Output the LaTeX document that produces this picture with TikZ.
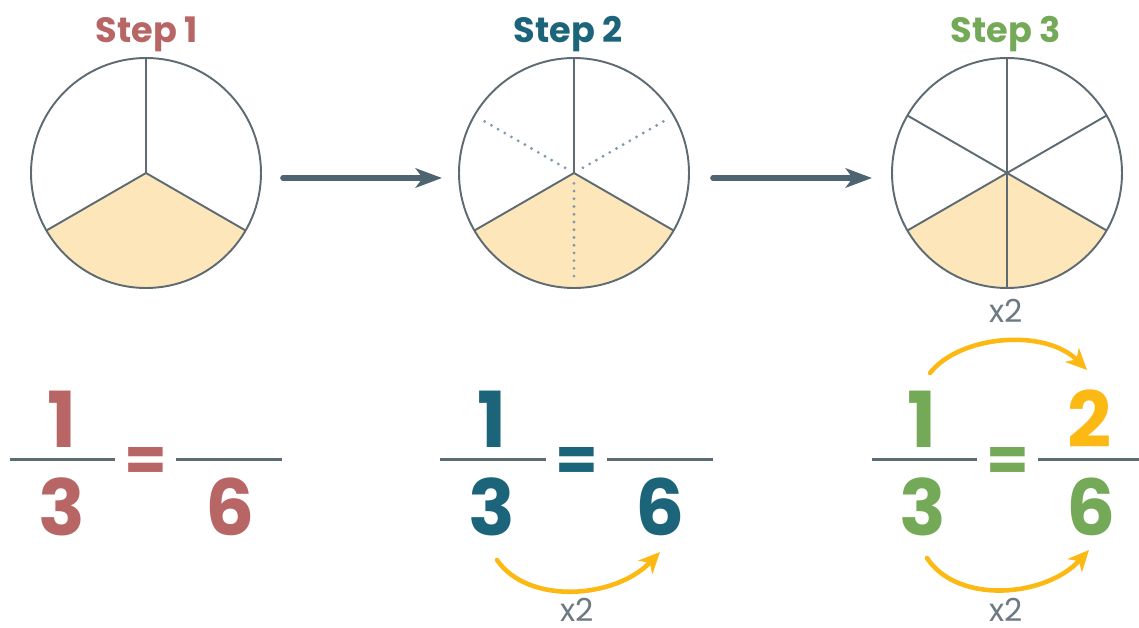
\documentclass[tikz,border=0pt]{standalone}
\usepackage{fontspec}
\setmainfont{Poppins}
\usepackage{xcolor}
\usetikzlibrary{arrows.meta,positioning,calc}

\definecolor{rustred}{HTML}{B86565}
\definecolor{tealblue}{HTML}{1C6479}
\definecolor{leafgreen}{HTML}{74A958}
\definecolor{gold}{HTML}{FDB913}
\definecolor{linegray}{HTML}{5E6B73}
\definecolor{arrowgray}{HTML}{4E6470}
\definecolor{dotblue}{HTML}{7F9BAA}
\definecolor{labelgray}{HTML}{6D7A82}
\definecolor{piefill}{HTML}{FDE7BA}

\begin{document}
\begin{tikzpicture}[
    x=0.02cm, y=0.02cm,
    title/.style={font=\fontsize{20}{24}\selectfont\bfseries, anchor=base},
    num/.style={font=\fontsize{44}{50}\selectfont\bfseries, anchor=base},
    eq/.style={font=\fontsize{35}{40}\selectfont\bfseries},
    times/.style={font=\fontsize{18}{22}\selectfont, text=labelgray, anchor=base, inner sep=0pt},
    disc/.style={circle, minimum size=4.6cm, inner sep=0pt, outer sep=0pt},
    bar/.style={draw=linegray, line width=1.7pt},
    rim/.style={draw=linegray, line width=1.1pt},
    spoke/.style={draw=linegray, line width=1.1pt},
    dots/.style={draw=dotblue, line width=1.8pt, line cap=round, dash pattern=on 0pt off 4.4pt},
    pie/.style={fill=piefill},
    arr/.style={-{Stealth[length=15pt, width=11pt, inset=4pt]}, line width=3.2pt, line cap=round, draw=arrowgray},
    curv/.style={-{Stealth[length=12pt, width=11pt, inset=3.5pt]}, line width=2.6pt, line cap=round, draw=gold}
]
    \useasboundingbox (0,0) rectangle (1139,627);

    \node [title, text=rustred] (t1) at (147,585) {Step 1};
    \node [title, text=tealblue] (t2) at (568,585) {Step 2};
    \node [title, text=leafgreen] (t3) at (1006,585) {Step 3};

    \node [disc] (c1) at (146,454) {};
    \node [disc] (c2) at (574,454) {};
    \node [disc] (c3) at (1007,454) {};

    \fill [pie] (c1.center) -- (c1.210) arc[start angle=210, end angle=330, radius=115] -- cycle;
    \fill [pie] (c2.center) -- (c2.210) arc[start angle=210, end angle=330, radius=115] -- cycle;
    \fill [pie] (c3.center) -- (c3.210) arc[start angle=210, end angle=330, radius=115] -- cycle;
    \draw [rim] (c1.center) circle[radius=115];
    \draw [rim] (c2.center) circle[radius=115];
    \draw [rim] (c3.center) circle[radius=115];

    \foreach \a in {90,210,330} \draw [spoke] (c1.center) -- (c1.\a);
    \foreach \a in {90,210,330} \draw [spoke] (c2.center) -- (c2.\a);
    \foreach \a in {30,150,270} \draw [dots] ($(c2.center)!0.09!(c2.\a)$) -- ($(c2.center)!0.92!(c2.\a)$);
    \foreach \a in {30,90,150,210,270,330} \draw [spoke] (c3.center) -- (c3.\a);

    \draw [arr] ([shift={(22,-5)}]c1.east) -- ([shift={(-17,-5)}]c2.west);
    \draw [arr] ([shift={(24,-5)}]c2.east) -- ([shift={(-20,-5)}]c3.west);

    \draw [bar] (10,168) -- (115,168);
    \draw [bar] (176,168) -- (282,168);
    \node [num, text=rustred] (a1) at (62,180) {1};
    \node [num, text=rustred] (a3) at (62,92) {3};
    \node [eq, text=rustred] (ae) at (146,163) {=};
    \node [num, text=rustred] (a6) at (230,92) {6};

    \draw [bar] (440,168) -- (546,168);
    \draw [bar] (607,168) -- (713,168);
    \node [num, text=tealblue] (b1) at (492,180) {1};
    \node [num, text=tealblue] (b3) at (492,92) {3};
    \node [eq, text=tealblue] (be) at (577,163) {=};
    \node [num, text=tealblue] (b6) at (660,92) {6};

    \draw [bar] (872,168) -- (977,168);
    \draw [bar] (1038,168) -- (1139,168);
    \node [num, text=leafgreen] (g1) at (922,180) {1};
    \node [num, text=leafgreen] (g3) at (923,92) {3};
    \node [eq, text=leafgreen] (ge) at (1008,163) {=};
    \node [num, text=gold] (g2) at (1090,180) {2};
    \node [num, text=leafgreen] (g6) at (1091,92) {6};

    \coordinate (bs) at (497,67);
    \coordinate (bt) at (660,75);
    \draw [curv] (bs) .. controls (528,22) and (615,28) .. (bt);
    \node [times] (bx) at (577,6) {x2};

    \coordinate (us) at (930,254);
    \coordinate (ut) at (1087,257);
    \draw [curv] (us) .. controls (960,292) and (1045,299) .. (ut);
    \node [times] (ux) at (1006,305) {x2};

    \coordinate (ls) at (927,69);
    \coordinate (lt) at (1089,77);
    \draw [curv] (ls) .. controls (958,22) and (1046,30) .. (lt);
    \node [times] (lx) at (1006,6) {x2};
\end{tikzpicture}
\end{document}
